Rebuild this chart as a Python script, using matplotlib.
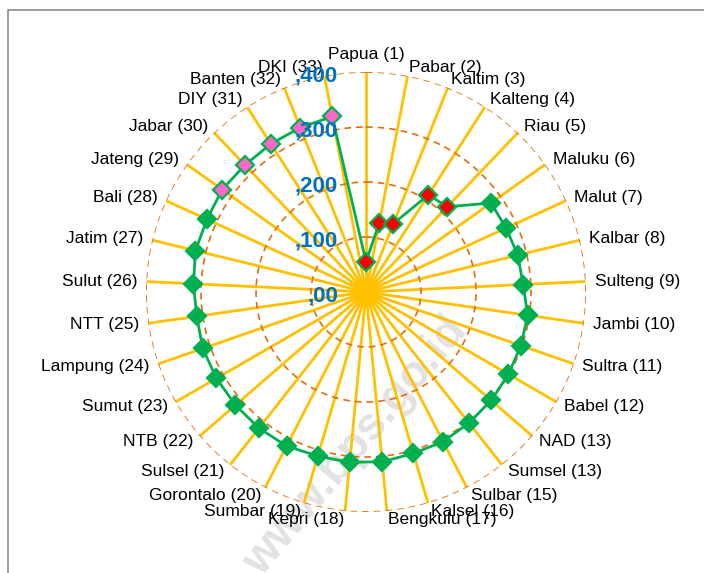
import numpy as np
import matplotlib
matplotlib.use('Agg')
from matplotlib import pyplot as plt
from matplotlib.lines import Line2D

# data
provinsi = ['Papua (1)', 'Pabar (2)', 'Kaltim (3)', 'Kalteng (4)', 'Riau (5)',
            'Maluku (6)', 'Malut (7)', 'Kalbar (8)', 'Sulteng (9)', 'Jambi (10)',
            'Sultra (11)', 'Babel (12)', 'NAD (13)', 'Sumsel (13)', 'Sulbar (15)',
            'Kalsel (16)', 'Bengkulu (17)', 'Kepri (18)', 'Sumbar (19)', 'Gorontalo (20)',
            'Sulsel (21)', 'NTB (22)', 'Sumut (23)', 'Lampung (24)', 'NTT (25)',
            'Sulut (26)', 'Jatim (27)', 'Bali (28)', 'Jateng (29)', 'Jabar (30)',
            'DIY (31)', 'Banten (32)', 'DKI (33)']
nilai = [55, 128, 134, 210, 214, 279, 280, 284, 286, 297,
         298, 299, 301, 303, 306, 306, 310, 311, 311, 315,
         315, 314, 314, 314, 311, 314, 319, 318, 321, 319,
         320, 322, 325]
kelompok = ['bawah'] * 5 + ['tengah'] * 23 + ['atas'] * 5
r_ticks = [0, 100, 200, 300, 400]
r_labels = [',00', ',100', ',200', ',300', ',400']

warna_isi = {'bawah': '#FF0000', 'tengah': '#00B050', 'atas': '#FF66CC'}

plt.rcParams['font.family'] = ['Liberation Sans', 'DejaVu Sans']

fig = plt.figure(figsize=(7.04, 5.73), dpi=100)
ax = fig.add_axes([146 / 704, 61 / 573, 440 / 704, 440 / 573], projection='polar')
ax.set_theta_zero_location('N')
ax.set_theta_direction(-1)
ax.set_ylim(0, 400)
ax.set_xticks([])
ax.set_yticks([])
ax.grid(False)
ax.spines['polar'].set_visible(False)
ax.patch.set_alpha(0)

sudut = np.linspace(0, 2 * np.pi, len(provinsi), endpoint=False)

# jari-jari (spokes)
for t in sudut:
    ax.plot([t, t], [0, r_ticks[-1]], color='#FFC000', lw=2.0, zorder=1,
            solid_capstyle='butt')

# lingkaran putus-putus
lingkar = np.linspace(0, 2 * np.pi, 500)
for r in r_ticks[1:]:
    ax.plot(lingkar, np.full_like(lingkar, r), color='#E46C0A', lw=1.2,
            ls=(0, (4, 3)), zorder=2)

# garis data (tertutup)
ax.plot(np.append(sudut, sudut[0]), nilai + [nilai[0]], color='#00B050', lw=2, zorder=3)
for k in ['bawah', 'tengah', 'atas']:
    idx = [i for i, g in enumerate(kelompok) if g == k]
    ax.plot(sudut[idx], [nilai[i] for i in idx], ls='none', marker='D', ms=9,
            mfc=warna_isi[k], mec='#00B050', mew=1.6, zorder=4)

# label sumbu radial
for r, lbl in zip(r_ticks, r_labels):
    ax.annotate(lbl, xy=(0, r), xytext=(-28, -4), textcoords='offset pixels',
                ha='right', va='center', color='#0070C0', fontsize=16,
                fontweight='bold', zorder=5)

# label kategori
for t, nama in zip(sudut, provinsi):
    s, c = np.sin(t), np.cos(t)
    if abs(s) < 0.01:
        ax.annotate(nama, xy=(t, r_ticks[-1]), xytext=(0, 10), textcoords='offset pixels',
                    ha='center', va='bottom', fontsize=12.5)
    else:
        ha = 'left' if s > 0 else 'right'
        ax.annotate(nama, xy=(t, r_ticks[-1]), xytext=(9 * s, 8.5 * c),
                    textcoords='offset pixels', ha=ha, va='center', fontsize=12.5)

# bingkai
fig.add_artist(Line2D([8 / 704, 8 / 704, 1.0], [0, 1 - 10 / 573, 1 - 10 / 573],
                      transform=fig.transFigure, color='#8C8C8C', lw=1.2))

# watermark
fig.text(0.505, 0.22, 'www.bps.go.id', rotation=50, ha='center', va='center',
         fontsize=33, fontweight='bold', color='#E2E2E2', zorder=-1)

fig.savefig('out.png', dpi=100)
